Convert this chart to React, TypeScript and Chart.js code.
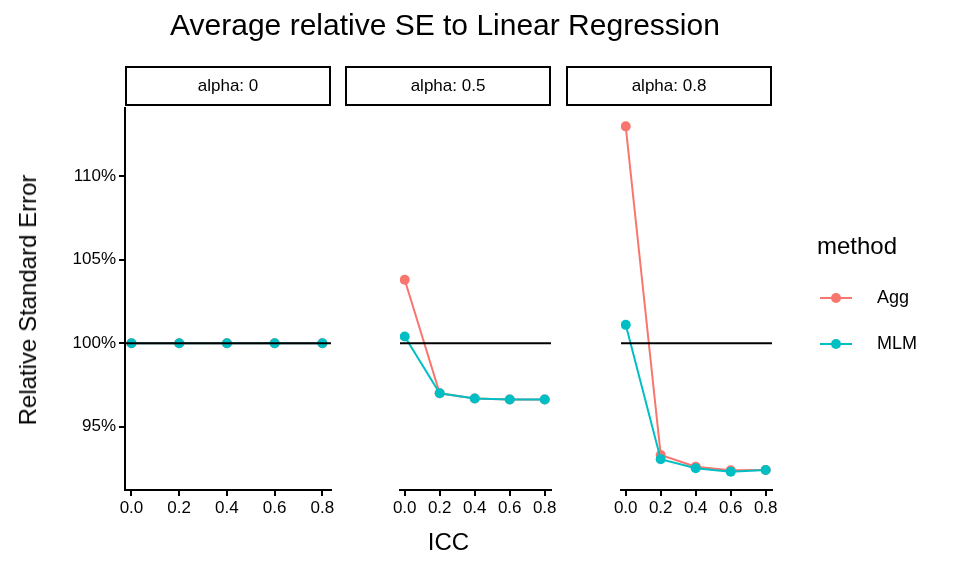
import React, { useEffect, useRef } from "react";
import { Chart, registerables } from "chart.js";
Chart.register(...registerables);

const panels = ["alpha: 0", "alpha: 0.5", "alpha: 0.8"];
const icc = [0, 0.2, 0.4, 0.6, 0.8];
const aggValues = [
  [100, 100, 100, 100, 100],
  [103.8, 97.0, 96.68, 96.63, 96.63],
  [113.0, 93.3, 92.6, 92.38, 92.4],
];
const mlmValues = [
  [100, 100, 100, 100, 100],
  [100.4, 97.0, 96.68, 96.63, 96.63],
  [101.1, 93.05, 92.5, 92.3, 92.4],
];
const yTicks = [95, 100, 105, 110];
const xTicks = [0, 0.2, 0.4, 0.6, 0.8];
const AGG = "#F8766D";
const MLM = "#00BFC4";
const FONT = "'Liberation Sans', Arial, sans-serif";
const PAD = 25;
const PADTOP = 16;
const PLOT_TOP = 108;
const PLOT_H = 382;
const XAXIS_H = 36;

const hline = {
  id: "hline",
  afterDatasetsDraw(chart: any) {
    const { ctx, chartArea, scales } = chart;
    const y = scales.y.getPixelForValue(100);
    ctx.save();
    ctx.strokeStyle = "#000";
    ctx.lineWidth = 2;
    ctx.beginPath();
    ctx.moveTo(chartArea.left, y);
    ctx.lineTo(chartArea.right, y);
    ctx.stroke();
    ctx.restore();
  },
};

function Panel({ idx, plotLeft, plotWidth }: { idx: number; plotLeft: number; plotWidth: number }) {
  const ref = useRef<HTMLCanvasElement>(null);
  const first = idx === 0;
  const yw = first ? 55 : 0;
  const left = plotLeft - yw - PAD;
  const width = plotWidth + yw + 2 * PAD;
  const height = PADTOP + PLOT_H + XAXIS_H;
  useEffect(() => {
    const mk = (label: string, vals: number[], color: string, order: number) => ({
      label,
      order,
      data: icc.map((x, i) => ({ x, y: vals[i] })),
      borderColor: color,
      backgroundColor: color,
      borderWidth: 2,
      pointRadius: 5,
      pointBorderWidth: 0,
    });
    const chart = new Chart(ref.current!, {
      type: "line",
      data: { datasets: [mk("Agg", aggValues[idx], AGG, 2), mk("MLM", mlmValues[idx], MLM, 1)] },
      plugins: [hline],
      options: {
        animation: false,
        responsive: false,
        layout: { padding: { left: PAD, right: PAD, top: PADTOP, bottom: 0 } },
        plugins: { legend: { display: false }, tooltip: { enabled: false } },
        scales: {
          x: {
            type: "linear",
            min: -0.027,
            max: 0.836,
            afterBuildTicks: (s: any) => { s.ticks = xTicks.map((v) => ({ value: v })); },
            afterFit: (s: any) => { s.height = XAXIS_H; },
            ticks: { color: "#000", font: { family: FONT, size: 17 }, padding: 2, maxRotation: 0, autoSkip: false, callback: (v: any) => Number(v).toFixed(1) },
            grid: { drawOnChartArea: false, drawTicks: true, tickLength: 6, color: "#000", lineWidth: 2 },
            border: { display: true, color: "#000", width: 2 },
          },
          y: {
            type: "linear",
            min: 91.2,
            max: 114.1,
            display: first,
            afterBuildTicks: (s: any) => { s.ticks = yTicks.map((v) => ({ value: v })); },
            afterFit: (s: any) => { s.width = 55; },
            ticks: { color: "#000", font: { family: FONT, size: 17 }, padding: 3, callback: (v: any) => v + "%" },
            grid: { drawOnChartArea: false, drawTicks: true, tickLength: 6, color: "#000", lineWidth: 2 },
            border: { display: true, color: "#000", width: 2 },
          },
        },
      } as any,
    });
    return () => chart.destroy();
  }, [idx]);
  return (
    <canvas ref={ref} width={width} height={height}
      style={{ position: "fixed", left, top: PLOT_TOP - PADTOP, width, height }} />
  );
}

export default function App() {
  const plotLefts = [125, 345, 566];
  const text = (s: any) => ({ position: "fixed" as const, fontFamily: FONT, color: "#000", ...s });
  return (
    <div style={{ width: 960, height: 576, background: "#fff" }}>
      <div style={text({ left: 0, width: 890, top: 8, fontSize: 30, textAlign: "center" })}>
        Average relative SE to Linear Regression
      </div>
      {panels.map((p, i) => (
        <div key={p} style={text({ left: plotLefts[i], top: 66, width: 202, height: 36, border: "2px solid #000", fontSize: 17, textAlign: "center", lineHeight: "36px" })}>{p}</div>
      ))}
      {plotLefts.map((pl, i) => (
        <Panel key={i} idx={i} plotLeft={pl} plotWidth={206} />
      ))}
      <div style={text({ left: 125, width: 647, top: 528, fontSize: 24, textAlign: "center" })}>ICC</div>
      <div style={text({ left: 28, top: 300, fontSize: 24, transform: "translate(-50%,-50%) rotate(-90deg)", whiteSpace: "nowrap" })}>Relative Standard Error</div>
      <div style={text({ left: 817, top: 232, fontSize: 24 })}>method</div>
      {[["Agg", AGG, 298], ["MLM", MLM, 344]].map(([l, c, y]: any) => (
        <div key={l}>
          <div style={{ position: "fixed", left: 820, top: y - 1, width: 32, height: 2, background: c }} />
          <div style={{ position: "fixed", left: 831, top: y - 5, width: 10, height: 10, borderRadius: 5, background: c }} />
          <div style={text({ left: 877, top: y - 11, fontSize: 18 })}>{l}</div>
        </div>
      ))}
    </div>
  );
}
